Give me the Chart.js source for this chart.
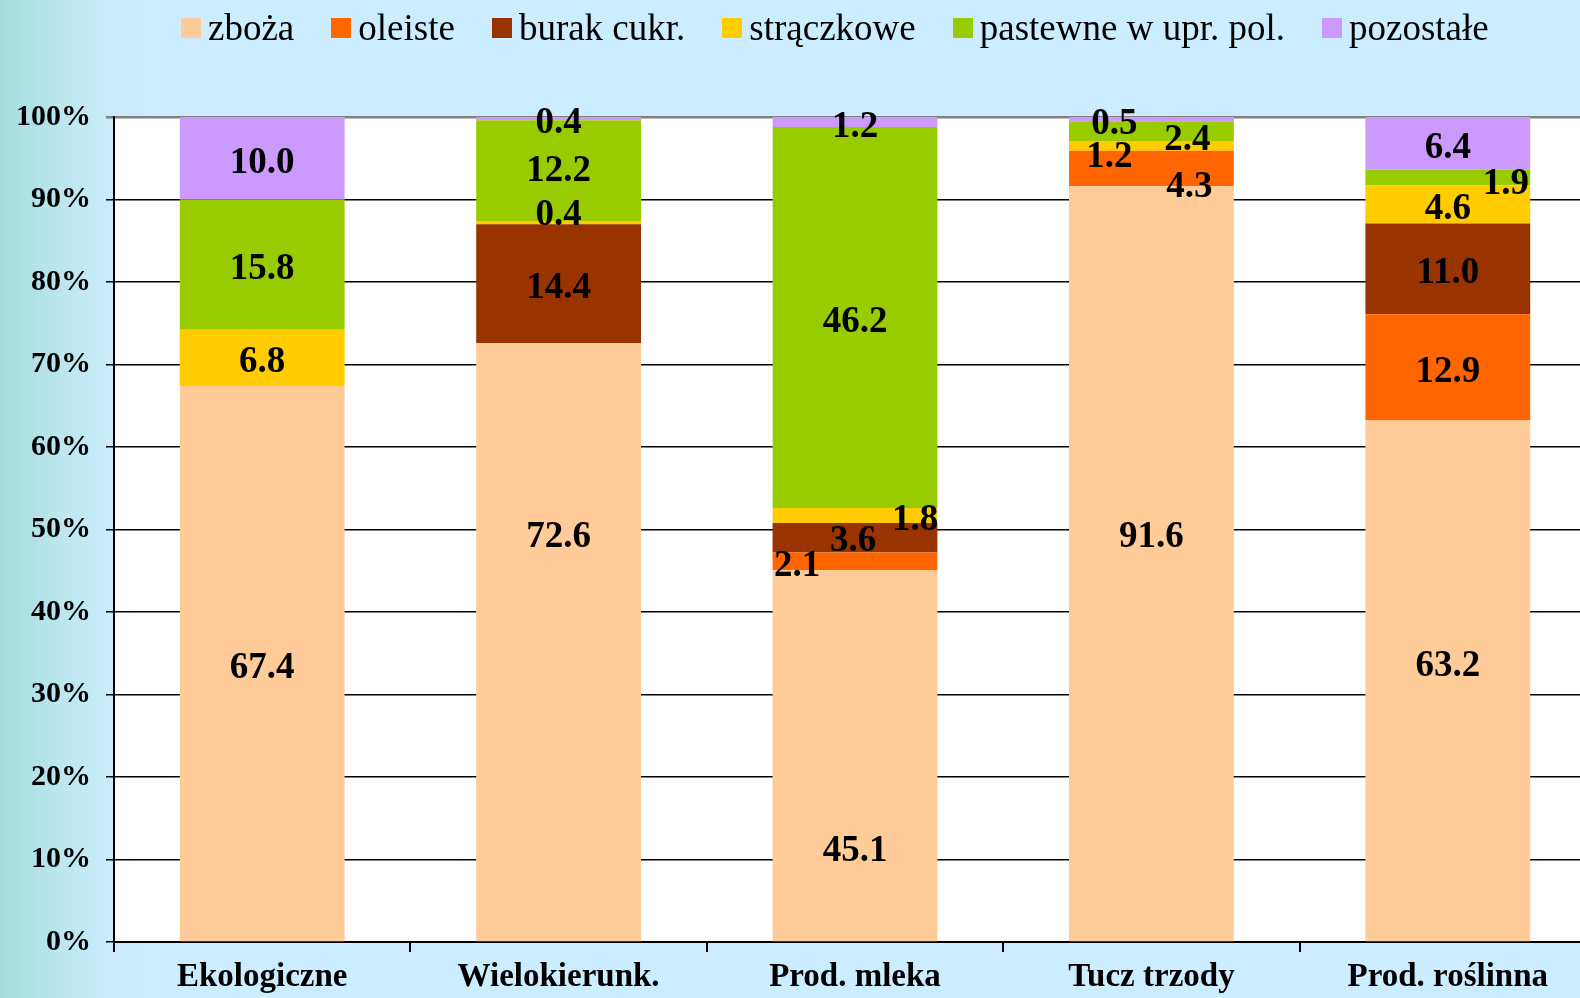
<!DOCTYPE html>
<html>
<head>
<meta charset="utf-8">
<script src="https://cdn.jsdelivr.net/npm/chart.js@4/dist/chart.umd.min.js"></script>
<style>
  html, body { margin: 0; padding: 0; overflow: hidden; width: 1580px; height: 998px; }
  body {
    background: linear-gradient(to right, #a3dcdc 0px, #bde6f0 60px, #c9ebfb 110px, #ccecff 150px);
    font-family: "Liberation Serif", serif;
  }
  #wrap { position: absolute; left: 0; top: 0; width: 1600px; height: 998px; }
  #legend {
    position: absolute; left: 181px; top: 6px; display: flex; align-items: center;
    font: 37px "Liberation Serif", serif; color: #000; white-space: nowrap;
  }
  #legend .item { display: flex; align-items: center; margin-right: 37px; }
  #legend .box { width: 20px; height: 20px; margin-right: 7px; }
</style>
</head>
<body>
<div id="wrap"><canvas id="chart"></canvas></div>
<div id="legend"></div>
<script>
const categories = ["Ekologiczne", "Wielokierunk.", "Prod. mleka", "Tucz trzody", "Prod. roślinna"];

const zboza       = [67.4, 72.6, 45.1, 91.6, 63.2];
const oleiste     = [0,    0,    2.1,  4.3,  12.9];
const burak       = [0,    14.4, 3.6,  0,    11.0];
const straczkowe  = [6.8,  0.4,  1.8,  1.2,  4.6];
const pastewne    = [15.8, 12.2, 46.2, 2.4,  1.9];
const pozostale   = [10.0, 0.4,  1.2,  0.5,  6.4];

const seriesNames = ["zboża", "oleiste", "burak cukr.", "strączkowe", "pastewne w upr. pol.", "pozostałe"];
const seriesData  = [zboza, oleiste, burak, straczkowe, pastewne, pozostale];
const colors = ["#ffcc99", "#ff6600", "#993300", "#ffcc00", "#99cc00", "#cc99ff"];

const yTicks = [0, 10, 20, 30, 40, 50, 60, 70, 80, 90, 100];

// label nudges in px (dx, dy) from segment centre, same layout as the original
const labelNudge = [
  [[0, 0], [0, -110], [0, 91], [0, -31], [0, -19]],
  [[0, 0], [0, 0], [-58, 0], [38, 14], [0, 0]],
  [[0, 0], [0, 0], [-2, -1], [0, 0], [0, 0]],
  [[0, 0], [0, -12], [60, 0], [-42, 7], [0, 0]],
  [[0, 0], [0, -4], [0, 0], [36, 4], [58, 2]],
  [[0, 0], [0, 0], [0, 0], [-37, 0], [0, 0]]
];

// html legend
const legendEl = document.getElementById("legend");
seriesNames.forEach((name, i) => {
  const item = document.createElement("div");
  item.className = "item";
  item.innerHTML = '<span class="box" style="background:' + colors[i] + '"></span><span>' + name + '</span>';
  legendEl.appendChild(item);
});

const plotBg = {
  id: "plotBg",
  beforeDraw(chart) {
    const { ctx, chartArea: a } = chart;
    ctx.save();
    ctx.fillStyle = "#ffffff";
    ctx.fillRect(a.left, a.top, a.right - a.left, a.bottom - a.top);
    ctx.restore();
  }
};

const valueLabels = {
  id: "valueLabels",
  afterDatasetsDraw(chart) {
    const ctx = chart.ctx;
    ctx.save();
    ctx.font = 'bold 37px "Liberation Serif", serif';
    ctx.fillStyle = "#000";
    ctx.textAlign = "center";
    ctx.textBaseline = "middle";
    chart.data.datasets.forEach((ds, di) => {
      const meta = chart.getDatasetMeta(di);
      meta.data.forEach((bar, i) => {
        const v = ds.data[i];
        if (!v) return;
        const n = labelNudge[di][i];
        const y = (bar.y + bar.base) / 2 + 5 + n[1];
        ctx.fillText(v.toFixed(1), bar.x + n[0], y);
      });
    });
    ctx.restore();
  }
};

new Chart(document.getElementById("chart"), {
  type: "bar",
  data: {
    labels: categories,
    datasets: seriesData.map((d, i) => ({
      label: seriesNames[i],
      data: d,
      backgroundColor: colors[i],
      borderWidth: 0,
      categoryPercentage: 1,
      barPercentage: 0.556
    }))
  },
  options: {
    responsive: true,
    maintainAspectRatio: false,
    animation: false,
    layout: { padding: { top: 117, right: 4, left: 0, bottom: 0 } },
    plugins: {
      legend: { display: false },
      tooltip: { enabled: false }
    },
    scales: {
      x: {
        stacked: true,
        border: { color: "#000", width: 2 },
        grid: { offset: true, drawOnChartArea: false, drawTicks: true, tickLength: 10, color: "#000", lineWidth: 2 },
        ticks: {
          color: "#000",
          padding: 6,
          maxRotation: 0,
          font: { family: "Liberation Serif", size: 33, weight: "bold" }
        },
        afterFit(scale) { scale.height = 56; }
      },
      y: {
        stacked: true,
        min: 0,
        max: 100,
        afterBuildTicks(scale) { scale.ticks = yTicks.map(v => ({ value: v })); },
        border: { color: "#000", width: 2 },
        grid: {
          color: (c) => (c.tick && c.tick.value === 100 ? "#808080" : "#000"),
          lineWidth: (c) => (c.tick && c.tick.value === 100 ? 2.5 : 1.5),
          tickLength: 8
        },
        ticks: {
          color: "#000",
          padding: 15,
          font: { family: "Liberation Serif", size: 30, weight: "bold" },
          callback: (v) => v + "%"
        },
        afterFit(scale) { scale.width = 114; }
      }
    }
  },
  plugins: [plotBg, valueLabels]
});
</script>
</body>
</html>
